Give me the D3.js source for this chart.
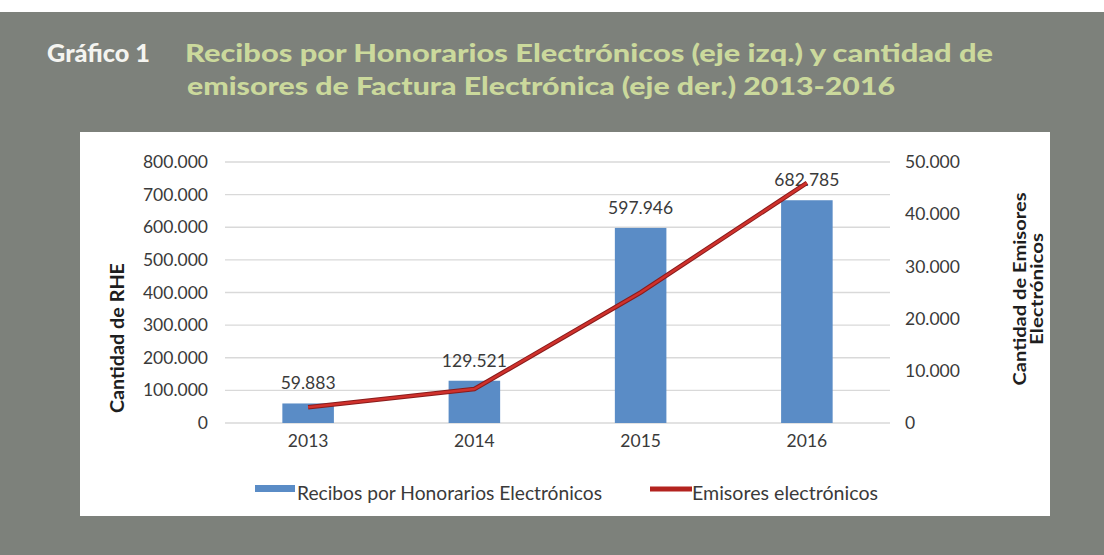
<!DOCTYPE html>
<html>
<head>
<meta charset="utf-8">
<script src="https://cdn.jsdelivr.net/npm/d3@7"></script>
<style>
  body { margin: 0; background: #fff; }
  svg { display: block; }
</style>
</head>
<body>
<div id="chart"></div>
<script>
const years = ["2013", "2014", "2015", "2016"];
const rhe = [59883, 129521, 597946, 682785];
const emisores = [3000, 6500, 25000, 46000];
const leftTicks = [0, 100000, 200000, 300000, 400000, 500000, 600000, 700000, 800000];
const rightTicks = [0, 10000, 20000, 30000, 40000, 50000];

const width = 1104;
const height = 555;
const fmt = v => d3.format(",")(v).replace(/,/g, ".");

const svg = d3.select("#chart")
  .append("svg")
  .attr("width", width)
  .attr("height", height);

// gray page behind the figure
svg.append("rect")
  .attr("x", 0).attr("y", 12)
  .attr("width", width).attr("height", height - 12)
  .attr("fill", "#7d817b");

// title
svg.append("text")
  .attr("x", 47).attr("y", 62)
  .attr("font-family", "Lato, sans-serif")
  .attr("font-weight", 900)
  .attr("font-size", 24)
  .attr("fill", "#f4f4f0")
  .attr("textLength", 103)
  .attr("lengthAdjust", "spacingAndGlyphs")
  .text("Gráfico 1");

const titleLines = [
  "Recibos por Honorarios Electrónicos (eje izq.) y cantidad de",
  "emisores de Factura Electrónica (eje der.) 2013-2016"
];
const titleWidths = [808, 708];
svg.selectAll(".title")
  .data(titleLines)
  .enter()
  .append("text")
  .attr("class", "title")
  .attr("x", (d, i) => 185 + i * 2)
  .attr("y", (d, i) => 62 + i * 33)
  .attr("font-family", "Lato, sans-serif")
  .attr("font-weight", 900)
  .attr("font-size", 25)
  .attr("fill", "#cbd99c")
  .attr("textLength", (d, i) => titleWidths[i])
  .attr("lengthAdjust", "spacingAndGlyphs")
  .text(d => d);

// white chart panel
svg.append("rect")
  .attr("x", 80).attr("y", 132)
  .attr("width", 970).attr("height", 384)
  .attr("fill", "#ffffff");

const x = d3.scaleBand().domain(years).range([225, 890]).paddingInner(0.69).paddingOuter(0.345);
const yL = d3.scaleLinear().domain([0, 800000]).range([423, 162]);
const yR = d3.scaleLinear().domain([0, 50000]).range([423, 162]);

const font = "Lato, 'Open Sans', sans-serif";
const textColor = "#3a3a3a";
const fs = 17.5;

// gridlines
svg.append("g")
  .selectAll("line")
  .data(leftTicks)
  .enter()
  .append("line")
  .attr("x1", 225).attr("x2", 890)
  .attr("y1", d => yL(d)).attr("y2", d => yL(d))
  .attr("stroke", "#d9d9d9")
  .attr("stroke-width", 1.3);

// left axis
const leftAxis = svg.append("g")
  .attr("transform", "translate(214,0)")
  .call(d3.axisLeft(yL).tickValues(leftTicks).tickFormat(fmt).tickSize(0).tickPadding(6));
leftAxis.select(".domain").remove();
leftAxis.selectAll("text")
  .attr("font-family", font).attr("font-size", fs).attr("fill", textColor);

// right axis
const rightAxis = svg.append("g")
  .attr("transform", "translate(899,0)")
  .call(d3.axisRight(yR).tickValues(rightTicks).tickFormat(fmt).tickSize(0).tickPadding(6));
rightAxis.select(".domain").remove();
rightAxis.selectAll("text")
  .attr("font-family", font).attr("font-size", fs).attr("fill", textColor);

// x axis
const xAxis = svg.append("g")
  .attr("transform", `translate(0,${yL(0)})`)
  .call(d3.axisBottom(x).tickSize(0).tickPadding(12));
xAxis.select(".domain").remove();
xAxis.selectAll("text")
  .attr("font-family", font).attr("font-size", fs).attr("fill", textColor);

// bars
svg.append("g")
  .selectAll("rect")
  .data(rhe)
  .enter()
  .append("rect")
  .attr("x", (d, i) => x(years[i]))
  .attr("y", d => yL(d))
  .attr("width", x.bandwidth())
  .attr("height", d => yL(0) - yL(d))
  .attr("fill", "#5a8cc6");

// bar labels
svg.append("g")
  .selectAll("text")
  .data(rhe)
  .enter()
  .append("text")
  .attr("x", (d, i) => x(years[i]) + x.bandwidth() / 2)
  .attr("y", d => yL(d) - 14)
  .attr("text-anchor", "middle")
  .attr("font-family", font)
  .attr("font-size", fs)
  .attr("fill", textColor)
  .text(d => fmt(d));

// line
const line = d3.line()
  .x((d, i) => x(years[i]) + x.bandwidth() / 2)
  .y(d => yR(d));

svg.append("path")
  .datum(emisores)
  .attr("d", line)
  .attr("fill", "none")
  .attr("stroke", "#8a1c1c")
  .attr("stroke-width", 4.5);
svg.append("path")
  .datum(emisores)
  .attr("d", line)
  .attr("fill", "none")
  .attr("stroke", "#d0312c")
  .attr("stroke-width", 2.5);

// axis titles
svg.append("text")
  .attr("transform", "translate(124,338) rotate(-90)")
  .attr("text-anchor", "middle")
  .attr("font-family", font)
  .attr("font-weight", 700)
  .attr("font-size", 19)
  .attr("fill", "#1e1e1e")
  .attr("textLength", 150)
  .attr("lengthAdjust", "spacingAndGlyphs")
  .text("Cantidad de RHE");

const rightTitle = ["Cantidad de Emisores", "Electrónicos"];
const rightTitleWidths = [193, 112];
svg.append("g")
  .attr("transform", "translate(1020,289) rotate(-90)")
  .selectAll("text")
  .data(rightTitle)
  .enter()
  .append("text")
  .attr("x", 0)
  .attr("y", (d, i) => 6 + i * 17)
  .attr("text-anchor", "middle")
  .attr("font-family", font)
  .attr("font-weight", 700)
  .attr("font-size", 16.5)
  .attr("fill", "#1e1e1e")
  .attr("textLength", (d, i) => rightTitleWidths[i])
  .attr("lengthAdjust", "spacingAndGlyphs")
  .text(d => d);

// legend
const legend = svg.append("g");
legend.append("rect")
  .attr("x", 255).attr("y", 485)
  .attr("width", 40).attr("height", 7)
  .attr("fill", "#5a8cc6");
legend.append("text")
  .attr("x", 297).attr("y", 500)
  .attr("font-family", font)
  .attr("font-size", 19)
  .attr("fill", textColor)
  .attr("textLength", 305)
  .attr("lengthAdjust", "spacingAndGlyphs")
  .text("Recibos por Honorarios Electrónicos");
legend.append("line")
  .attr("x1", 650).attr("x2", 692)
  .attr("y1", 489).attr("y2", 489)
  .attr("stroke", "#b3231f")
  .attr("stroke-width", 5);
legend.append("text")
  .attr("x", 692).attr("y", 500)
  .attr("font-family", font)
  .attr("font-size", 19)
  .attr("fill", textColor)
  .attr("textLength", 186)
  .attr("lengthAdjust", "spacingAndGlyphs")
  .text("Emisores electrónicos");
</script>
</body>
</html>
